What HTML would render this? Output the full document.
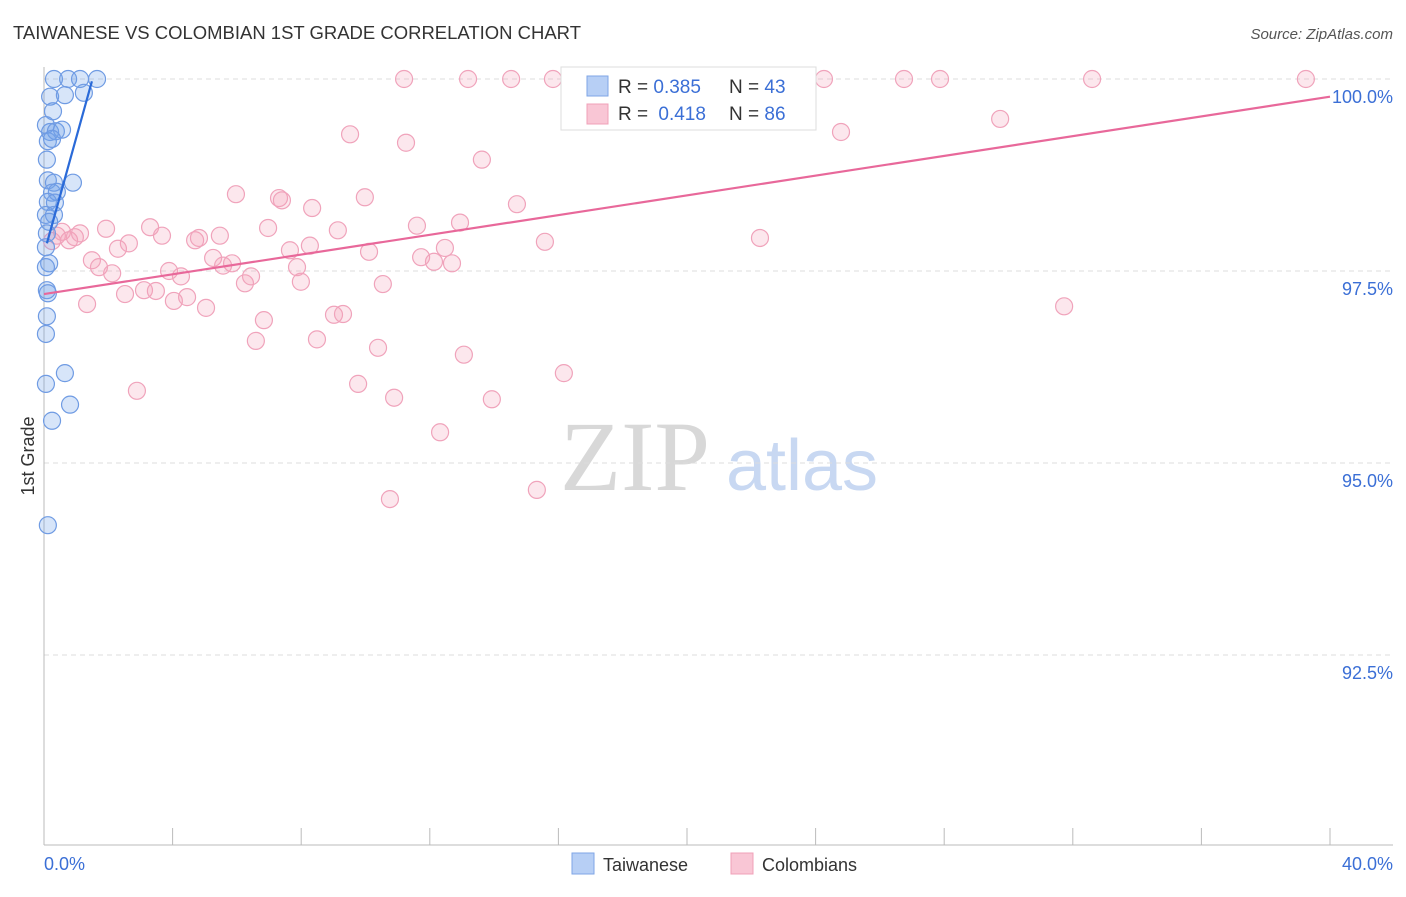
<!DOCTYPE html>
<html><head><meta charset="utf-8"><style>
body{margin:0;background:#fff;font-family:"Liberation Sans",sans-serif;}
svg text{font-family:"Liberation Sans",sans-serif;}
</style></head><body>
<svg id="chart" width="1406" height="892" xmlns="http://www.w3.org/2000/svg">
<text x="13" y="39" font-size="18" fill="#333" textLength="568" lengthAdjust="spacingAndGlyphs">TAIWANESE VS COLOMBIAN 1ST GRADE CORRELATION CHART</text>
<text x="1393" y="39" font-size="15" fill="#555" font-style="italic" text-anchor="end">Source: ZipAtlas.com</text>
<text x="635" y="490" font-size="100" fill="#d8d8d8" text-anchor="middle" font-family="Liberation Serif, serif" style="font-family:'Liberation Serif',serif">ZIP</text>
<text x="802" y="490" font-size="72" fill="#c8d8f2" text-anchor="middle">atlas</text>
<g id="grid"></g><g id="axes"></g><g id="pts"></g><g id="lines"></g>
<text transform="translate(34,456) rotate(-90)" font-size="18" fill="#333" text-anchor="middle">1st Grade</text>
<g>
<rect x="561" y="67" width="255" height="63" fill="#fff" stroke="#ddd"/>
<rect x="587" y="76" width="21" height="20" fill="#b7cff5" stroke="#7fa6e6"/>
<rect x="587" y="104" width="21" height="20" fill="#f9c6d5" stroke="#f0a0b8"/>
<text x="618" y="93" font-size="19" fill="#333">R = <tspan fill="#3b6fd6">0.385</tspan></text>
<text x="729" y="93" font-size="19" fill="#333">N = <tspan fill="#3b6fd6">43</tspan></text>
<text x="618" y="120" font-size="19" fill="#333">R = <tspan fill="#3b6fd6" dx="5">0.418</tspan></text>
<text x="729" y="120" font-size="19" fill="#333">N = <tspan fill="#3b6fd6">86</tspan></text>
</g>
<g>
<rect x="572" y="853" width="22" height="21" fill="#b7cff5" stroke="#7fa6e6"/>
<text x="603" y="871" font-size="18" fill="#333">Taiwanese</text>
<rect x="731" y="853" width="22" height="21" fill="#f9c6d5" stroke="#f0a0b8"/>
<text x="762" y="871" font-size="18" fill="#333">Colombians</text>
</g>
</svg>
<script>
const yTicks=[100,97.5,95,92.5];
const yTickLabels=["100.0%","97.5%","95.0%","92.5%"];
const xTickLabels=["0.0%","40.0%"];
const blueX=[0.31,0.75,1.12,1.65,0.19,0.65,1.24,0.28,0.06,0.19,0.37,0.56,0.12,0.25,0.09,0.12,0.31,0.90,0.25,0.40,0.12,0.34,0.06,0.31,0.16,0.09,0.06,0.16,0.06,0.09,0.12,0.09,0.06,0.65,0.06,0.81,0.25,0.12];
const blueY=[100,100,100,100,99.77,99.79,99.82,99.58,99.40,99.31,99.32,99.34,99.19,99.22,98.95,98.68,98.65,98.65,98.52,98.53,98.40,98.39,98.23,98.23,98.14,97.99,97.81,97.60,97.55,97.25,97.21,96.91,96.68,96.17,96.03,95.76,95.55,94.19];
const pinkX=[11.2,13.19,14.53,15.83,19.53,24.26,26.75,27.87,32.6,39.25,9.52,11.26,13.62,24.79,29.74,5.97,7.31,7.40,8.34,9.98,14.71,1.93,3.30,3.67,4.70,4.82,5.47,6.97,9.14,12.94,11.60,15.58,22.27,0.40,0.56,0.78,0.96,1.12,0.25,1.49,1.71,2.12,2.30,2.64,3.89,4.26,5.26,5.57,5.85,6.25,6.44,7.65,7.87,7.99,8.27,10.11,11.73,12.13,12.47,12.69,10.54,1.34,2.52,3.11,3.48,4.04,4.45,5.04,6.84,9.02,9.30,31.73,6.59,8.49,10.39,13.06,2.89,9.77,10.89,13.93,16.17,12.32,10.76,15.33];
const pinkY=[100,100,100,100,100,100,100,100,100,100,99.28,99.17,98.95,99.31,99.48,98.50,98.45,98.42,98.32,98.46,98.37,98.05,98.07,97.96,97.90,97.93,97.96,98.06,98.03,98.13,98.09,97.88,97.93,97.96,98.01,97.90,97.94,97.99,97.89,97.64,97.55,97.47,97.79,97.86,97.50,97.43,97.67,97.57,97.60,97.34,97.43,97.77,97.55,97.36,97.83,97.75,97.68,97.62,97.80,97.60,97.33,97.07,97.20,97.25,97.24,97.11,97.16,97.02,96.86,96.93,96.94,97.04,96.59,96.61,96.50,96.41,95.94,96.03,95.85,95.83,96.17,95.40,94.53,94.65];
const blueLineX=[0.09,1.49];
const blueLineY=[97.86,99.97];
const pinkLineX=[0,40];
const pinkLineY=[97.20,99.77];

const NS="http://www.w3.org/2000/svg";
const sx=v=>44+v*32.15;
const sy=v=>79+(100-v)*76.8;
function mk(tag,attrs,parent){const e=document.createElementNS(NS,tag);for(const k in attrs)e.setAttribute(k,attrs[k]);parent.appendChild(e);return e;}
const grid=document.getElementById('grid'),axes=document.getElementById('axes'),pts=document.getElementById('pts'),lines=document.getElementById('lines');
yTicks.forEach((t,i)=>{
  const g=mk('line',{x1:44,x2:1393,y1:sy(t),y2:sy(t),stroke:'#ddd','stroke-dasharray':'5,4'},grid);
  
  
  const lb=mk('text',{x:1393,y:sy(t)+24,'font-size':18,fill:'#3b6fd6','text-anchor':'end'},axes);
  lb.textContent=yTickLabels[i];
  
  
});
const ax=mk('line',{x1:44,x2:1393,y1:845,y2:845,stroke:'#bbb'},axes);


const ay=mk('line',{x1:44,x2:44,y1:67,y2:845,stroke:'#bbb'},axes);


for(let i=1;i<=10;i++){
  const tk=mk('line',{x1:sx(i*4),x2:sx(i*4),y1:828,y2:845,stroke:'#bbb'},axes);
  
  
}
[[0,'start',44],[40,'end',1393]].forEach((a,i)=>{
  const lb=mk('text',{x:a[2],y:870,'font-size':18,fill:'#3b6fd6','text-anchor':a[1]},axes);
  lb.textContent=xTickLabels[i];
  
  
});
pinkX.forEach((x,i)=>{
  const c=mk('circle',{cx:sx(x),cy:sy(pinkY[i]),r:8.5,fill:'rgba(244,160,185,0.25)',stroke:'#f0a3bb','stroke-width':1.2},pts);
  
  
});
blueX.forEach((x,i)=>{
  const c=mk('circle',{cx:sx(x),cy:sy(blueY[i]),r:8.5,fill:'rgba(110,160,235,0.28)',stroke:'#6f9be3','stroke-width':1.2},pts);
  
  
});
const bl=mk('line',{x1:sx(blueLineX[0]),y1:sy(blueLineY[0]),x2:sx(blueLineX[1]),y2:sy(blueLineY[1]),stroke:'#2a6ad8','stroke-width':2.2},lines);


const pl=mk('line',{x1:sx(pinkLineX[0]),y1:sy(pinkLineY[0]),x2:sx(pinkLineX[1]),y2:sy(pinkLineY[1]),stroke:'#e8689a','stroke-width':2.2},lines);


</script>
</body></html>
